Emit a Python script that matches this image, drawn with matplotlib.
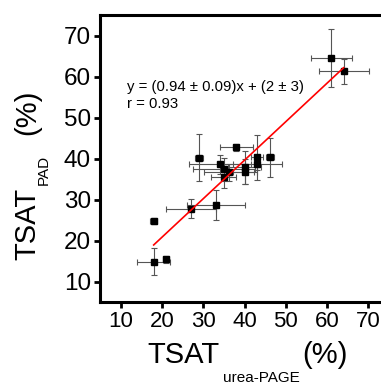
import matplotlib
matplotlib.use("Agg")
import matplotlib.pyplot as plt
import numpy as np

# Data
tsat_page = [61.0, 64.1, 18.0, 18.0, 21.0, 27.1, 33.1, 29.0, 38.0,
             34.1, 35.0, 36.3, 35.0, 40.1, 40.1, 43.1, 43.1, 46.1]
tsat_pad = [64.5, 61.3, 24.8, 14.8, 15.4, 27.8, 28.7, 40.2, 42.7,
            38.6, 37.4, 36.6, 35.4, 37.9, 36.8, 40.3, 38.6, 40.3]
xerr = [5, 6, 0.8, 4, 0.8, 6, 7, 1, 4, 7.5, 7.5, 6, 3, 4, 3, 1.5, 6, 1]
yerr = [7, 3, 0.8, 3.3, 0.8, 2.3, 3.7, 5.7, 0.8, 2.3, 2.8, 2, 2.7, 4, 3, 5.5, 1.5, 4.8]

slope, intercept = 0.94, 2.0
fit_range = [18, 64]
ticks = [10, 20, 30, 40, 50, 60, 70]

W, H = 381, 383

plt.rcParams["font.family"] = ["Liberation Sans", "DejaVu Sans"]

fig = plt.figure(figsize=(W / 100, H / 100), dpi=100)
ax = fig.add_axes([0.2625, 0.2115, 0.7585, 0.749])

ax.errorbar(tsat_page, tsat_pad, xerr=xerr, yerr=yerr, fmt="s",
            color="black", ms=4.8, ecolor="#555555", elinewidth=0.8,
            capsize=2, capthick=0.8, zorder=3)

fx = np.array(fit_range)
ax.plot(fx, slope * fx + intercept, color="red", lw=1.2, zorder=4)

ax.text(11.5, 56.5, "y = (0.94 \u00b1 0.09)x + (2 \u00b1 3)", fontsize=10.7)
ax.text(11.5, 52.3, "r = 0.93", fontsize=10.7)

ax.set_xlim(5, 75)
ax.set_ylim(5, 75)
ax.set_xticks(ticks)
ax.set_yticks(ticks)
ax.tick_params(width=2, length=4.5, pad=2)
ax.tick_params(axis="x", labelsize=16)
ax.tick_params(axis="y", labelsize=17.5)
for s in ax.spines.values():
    s.set_linewidth(2.2)


def px(x, y_from_top):
    # figure-fraction position from pixel coords measured on the reference
    return x / W, (H - y_from_top) / H


# x label: TSAT with a low subscript
fig.text(*px(147, 363), "TSAT", fontsize=21, ha="left", va="baseline")
fig.text(*px(223, 381.5), "urea-PAGE", fontsize=11, ha="left", va="baseline")
fig.text(*px(302, 363), "(%)", fontsize=21, ha="left", va="baseline")

# y label, rotated
rot = dict(rotation=90, rotation_mode="anchor", ha="left", va="baseline")
fig.text(*px(35, 260), "TSAT", fontsize=21, **rot)
fig.text(*px(47.5, 185), "PAD", fontsize=11, **rot)
fig.text(*px(35, 135), "(%)", fontsize=21, **rot)

fig.savefig("out.png", dpi=100)
